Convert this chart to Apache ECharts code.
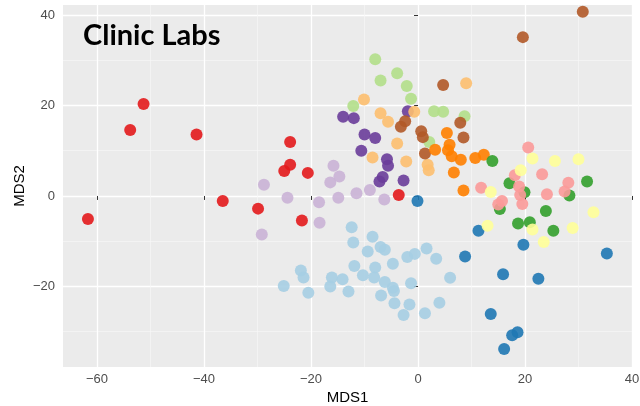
<!DOCTYPE html>
<html>
<head>
<meta charset="utf-8">
<script src="https://cdn.jsdelivr.net/npm/echarts@6/dist/echarts.min.js"></script>
<style>
html,body{margin:0;padding:0;background:#fff;}
#chart{width:640px;height:406px;}
</style>
</head>
<body>
<div id="chart"></div>
<script>
// ---- data (MDS1, MDS2) per group ----
const redPts = [[-61.7,-5.1],[-51.3,20.3],[-53.8,14.6],[-41.4,13.6],[-36.5,-1.1],[-29.9,-2.8],[-23.9,11.9],[-23.9,6.9],[-25.0,5.5],[-20.6,5.1],[-21.7,-5.4],[-3.6,0.2]];
const lightPurplePts = [[-28.8,2.5],[-24.4,-0.4],[-18.5,-1.4],[-14.9,-0.4],[-16.4,3.0],[-15.8,6.7],[-14.7,4.3],[-11.5,0.6],[-9.0,1.3],[-6.3,-0.8],[-18.4,-5.9],[-29.2,-8.5]];
const purplePts = [[-14.0,17.5],[-12.0,17.2],[-10.0,13.6],[-8.0,12.8],[-10.6,10.0],[-5.8,8.1],[-5.6,6.7],[-6.6,4.2],[-7.2,3.2],[-2.7,3.4],[-1.9,18.7]];
const bluePts = [[-0.1,-1.1],[11.3,-7.7],[8.8,-13.4],[19.7,-10.8],[35.3,-12.7],[15.9,-17.3],[22.5,-18.3],[13.6,-26.1],[18.6,-30.1],[17.6,-30.8],[16.1,-33.8]];
const lightBluePts = [[-12.4,-6.9],[-8.5,-9.0],[-12.1,-10.3],[-9.4,-12.3],[-7.0,-11.3],[-6.2,-11.9],[-2.0,-13.5],[-0.6,-12.8],[1.6,-11.6],[3.4,-13.9],[-11.9,-15.5],[-8.0,-15.8],[-4.7,-15.0],[-10.3,-17.5],[-8.2,-18.0],[-6.2,-19.0],[-4.7,-20.3],[-4.5,-21.0],[-1.3,-19.3],[6.0,-18.1],[-21.9,-16.5],[-21.4,-18.0],[-25.1,-19.9],[-20.5,-21.4],[-16.1,-18.0],[-16.4,-20.0],[-14.1,-18.4],[-13.0,-21.1],[-6.9,-22.0],[-4.4,-23.7],[-1.6,-24.0],[-2.7,-26.3],[1.3,-25.9],[4.0,-23.6]];
const lightGreenPts = [[-8.0,30.2],[-7.0,25.5],[-3.9,27.1],[-2.1,24.3],[-1.3,21.5],[-12.1,19.9],[3.0,18.7],[4.7,18.6],[8.7,17.6],[2.1,11.9]];
const lightOrangePts = [[-10.1,21.3],[-7.0,18.3],[-5.6,16.4],[-0.7,18.6],[-3.9,11.6],[-8.5,8.5],[-2.2,7.6],[1.8,6.9],[2.0,5.7],[9.0,24.9]];
const brownPts = [[30.8,40.7],[19.6,35.1],[4.7,24.5],[-2.4,16.5],[-3.2,15.3],[0.6,14.3],[0.9,13.0],[7.9,16.2],[8.5,12.9],[1.3,9.4]];
const orangePts = [[5.4,13.9],[5.9,11.3],[5.6,10.1],[3.2,10.2],[6.3,8.8],[8.0,8.0],[10.7,8.4],[12.3,9.1],[6.7,5.2],[8.5,1.2]];
const greenPts = [[13.9,7.7],[17.1,2.8],[19.9,0.8],[28.3,0.1],[31.6,3.2],[15.3,-2.9],[23.9,-3.3],[18.7,-6.1],[20.9,-5.8],[25.3,-7.7]];
const pinkPts = [[20.6,10.7],[18.1,4.6],[23.2,4.8],[28.1,2.9],[27.4,1.0],[18.9,2.1],[19.1,0.2],[24.1,0.4],[15.7,-1.1],[15.0,-1.9],[19.5,-1.8],[11.8,1.8]];
const yellowPts = [[21.4,8.3],[25.6,7.7],[30.0,8.1],[19.2,5.7],[13.6,0.9],[32.8,-3.6],[13.0,-6.6],[21.4,-7.4],[28.9,-7.1],[23.5,-10.2]];

const xMajorTicks = [-60,-40,-20,0,20,40];
const xMinorTicks = [-50,-30,-10,10,30];
const yMajorTicks = [-20,0,20,40];
const yMinorTicks = [-30,-10,10,30];

const groups = [
  {name:'red', color:'#E31A1C', data:redPts},
  {name:'lightpurple', color:'#CAB2D6', data:lightPurplePts},
  {name:'purple', color:'#6A3D9A', data:purplePts},
  {name:'lightblue', color:'#A6CEE3', data:lightBluePts},
  {name:'blue', color:'#1F78B4', data:bluePts},
  {name:'lightgreen', color:'#B2DF8A', data:lightGreenPts},
  {name:'lightorange', color:'#FDBF6F', data:lightOrangePts},
  {name:'brown', color:'#B15928', data:brownPts},
  {name:'orange', color:'#FF7F00', data:orangePts},
  {name:'green', color:'#33A02C', data:greenPts},
  {name:'pink', color:'#FB9A99', data:pinkPts},
  {name:'yellow', color:'#FFFF99', data:yellowPts}
];

const X_MIN = -66.36, X_MAX = 40.0, Y_MIN = -37.8, Y_MAX = 42.2;
const labelFont = {color:'#4D4D4D', fontSize:13, fontFamily:'Liberation Sans, Arial, sans-serif'};

const chart = echarts.init(document.getElementById('chart'), null, {renderer:'canvas'});
chart.setOption({
  animation:false,
  backgroundColor:'#ffffff',
  title:{
    text:'Clinic Labs', left:78, top:16,
    textStyle:{fontFamily:'Lato, Calibri, sans-serif', fontWeight:'bold', fontSize:29, color:'#000'}
  },
  grid:{left:63, right:8, top:5, bottom:39, show:true, backgroundColor:'#EBEBEB', borderWidth:0, containLabel:false, outerBoundsMode:'none'},
  xAxis:[{
    type:'value', min:X_MIN, max:X_MAX,
    name:'MDS1', nameLocation:'middle', nameGap:23, nameMoveOverlap:false,
    nameTextStyle:{color:'#000', fontSize:15, fontFamily:'Liberation Sans, Arial, sans-serif'},
    axisLine:{show:false},
    axisTick:{show:true, length:4, lineStyle:{color:'#333', width:1}, customValues:xMajorTicks},
    axisLabel:Object.assign({margin:6, customValues:xMajorTicks, formatter:v=>String(v).replace('-','\u2212')}, labelFont),
    splitLine:{show:true, lineStyle:{color:'#FFFFFF', width:1.3}}
  },{
    type:'value', min:X_MIN, max:X_MAX, position:'bottom',
    axisLine:{show:false},
    axisTick:{show:false, customValues:xMinorTicks},
    axisLabel:{show:false, customValues:xMinorTicks},
    splitLine:{show:true, lineStyle:{color:'#F7F7F7', width:0.7}}
  }],
  yAxis:[{
    type:'value', min:Y_MIN, max:Y_MAX,
    name:'MDS2', nameLocation:'middle', nameGap:36, nameRotate:90, nameMoveOverlap:false,
    nameTextStyle:{color:'#000', fontSize:15, fontFamily:'Liberation Sans, Arial, sans-serif'},
    axisLine:{show:false},
    axisTick:{show:true, length:4, lineStyle:{color:'#333', width:1}, customValues:yMajorTicks},
    axisLabel:Object.assign({margin:8, customValues:yMajorTicks, formatter:v=>String(v).replace('-','\u2212')}, labelFont),
    splitLine:{show:true, lineStyle:{color:'#FFFFFF', width:1.3}}
  },{
    type:'value', min:Y_MIN, max:Y_MAX, position:'left',
    axisLine:{show:false},
    axisTick:{show:false, customValues:yMinorTicks},
    axisLabel:{show:false, customValues:yMinorTicks},
    splitLine:{show:true, lineStyle:{color:'#F7F7F7', width:0.7}}
  }],
  series: groups.map(g => ({
    type:'scatter', name:g.name, xAxisIndex:0, yAxisIndex:0,
    data:g.data, symbol:'circle', symbolSize:12,
    itemStyle:{color:g.color, opacity:0.9},
    emphasis:{disabled:true}
  }))
});
</script>
</body>
</html>
